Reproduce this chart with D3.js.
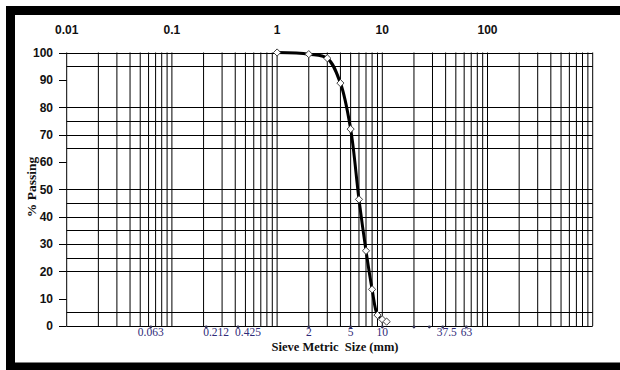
<!DOCTYPE html>
<html>
<head>
<meta charset="utf-8">
<script src="https://cdn.jsdelivr.net/npm/d3@7"></script>
<style>
  html, body { margin: 0; padding: 0; background: #fff; }
  svg { display: block; }
</style>
</head>
<body>
<svg id="chart" width="620" height="370"></svg>
<script>
// ---- data ----
const sieveSizes = [1, 2, 3, 4, 5, 6, 7, 8, 9, 10, 11];           // mm
const percentPassing = [100, 99.4, 97.9, 88.8, 72.0, 46.3, 27.5, 13.4, 4.0, 2.4, 1.6];
const topTickValues = [0.01, 0.1, 1, 10, 100];
const topTickLabels = ["0.01", "0.1", "1", "10", "100"];
const yTickValues = [0, 10, 20, 30, 40, 50, 60, 70, 80, 90, 100];
const hGridValues = [100, 95, 80, 75, 70, 65, 50, 45, 40, 35, 30, 25, 20, 5, 0];
const sieveMarks = [0.063, 0.212, 0.425, 2, 5, 10, 20, 28, 37.5, 63];
const sieveLabelText = ["0.063", "0.212", "0.425", "2", "5", "10", "", "", "37.5", "63"];

// ---- layout ----
const svg = d3.select("#chart");
const x = d3.scaleLog().domain([0.01, 1000]).range([66.7, 592.7]);
const y = d3.scaleLinear().domain([0, 100]).range([326, 52.5]);

// frame bars
svg.append("rect").attr("x", 6).attr("y", 6).attr("width", 614).attr("height", 9).attr("fill", "#000");
svg.append("rect").attr("x", 6).attr("y", 6).attr("width", 9).attr("height", 364).attr("fill", "#000");
svg.append("rect").attr("x", 6).attr("y", 362.5).attr("width", 614).attr("height", 8).attr("fill", "#000");

// vertical log gridlines
svg.append("g").selectAll("line").data(x.ticks()).join("line")
  .attr("x1", d => x(d)).attr("x2", d => x(d))
  .attr("y1", y(100)).attr("y2", y(0))
  .attr("stroke", "#000").attr("stroke-width", 1);

// horizontal gridlines
svg.append("g").selectAll("line").data(hGridValues).join("line")
  .attr("x1", x(0.01)).attr("x2", x(1000))
  .attr("y1", d => Math.round(y(d)) + 0.5).attr("y2", d => Math.round(y(d)) + 0.5)
  .attr("stroke", "#000").attr("stroke-width", 1);

// y ticks + labels
const yg = svg.append("g");
yg.selectAll("line").data(yTickValues).join("line")
  .attr("x1", 59).attr("x2", x(0.01))
  .attr("y1", d => Math.round(y(d)) + 0.5).attr("y2", d => Math.round(y(d)) + 0.5)
  .attr("stroke", "#000");
yg.selectAll("text").data(yTickValues).join("text")
  .attr("x", 53).attr("y", d => y(d)).attr("dy", "0.36em")
  .attr("text-anchor", "end")
  .attr("font-family", "Liberation Sans, Arial, sans-serif")
  .attr("font-weight", "bold").attr("font-size", 12)
  .attr("fill", "#111")
  .text(d => d);

// top labels
svg.append("g").selectAll("text").data(topTickValues).join("text")
  .attr("x", d => x(d)).attr("y", 30).attr("dy", "0.36em")
  .attr("text-anchor", "middle")
  .attr("font-family", "Liberation Sans, Arial, sans-serif")
  .attr("font-weight", "bold").attr("font-size", 12)
  .attr("fill", "#111")
  .text((d, i) => topTickLabels[i]);

// sieve marks along the bottom
svg.append("g").selectAll("circle").data(sieveMarks).join("circle")
  .attr("cx", d => x(d)).attr("cy", y(0) + 1)
  .attr("r", 1.4).attr("fill", "#333355");
svg.append("g").selectAll("text").data(sieveMarks).join("text")
  .attr("x", (d, i) => (sieveLabelText[i] === "0.212" || sieveLabelText[i] === "0.425") ? x(d) - 3 : x(d) + (sieveLabelText[i] === "37.5" ? 4 : 0))
  .attr("y", 332).attr("dy", "0.35em")
  .attr("text-anchor", (d, i) => (sieveLabelText[i] === "0.212" || sieveLabelText[i] === "0.425") ? "start" : "middle")
  .attr("font-family", "Liberation Serif, Times New Roman, serif")
  .attr("font-size", 11.5)
  .attr("fill", "#2e2a78")
  .text((d, i) => sieveLabelText[i]);

// curve
const pts = sieveSizes.map((s, i) => [s, percentPassing[i]]);
svg.append("path").datum(pts)
  .attr("fill", "none").attr("stroke", "#000").attr("stroke-width", 3)
  .attr("d", d3.line().x(d => x(d[0])).y(d => y(d[1])).curve(d3.curveCatmullRom.alpha(0.5)));

// markers (diamonds)
svg.append("g").selectAll("path").data(pts).join("path")
  .attr("transform", d => `translate(${x(d[0])},${y(d[1])})`)
  .attr("d", "M0,-3.6L3.6,0L0,3.6L-3.6,0Z")
  .attr("fill", "#fff").attr("stroke", "#444").attr("stroke-width", 1);

// axis titles
svg.append("text")
  .attr("x", 335).attr("y", 347).attr("dy", "0.35em")
  .attr("text-anchor", "middle")
  .attr("font-family", "Liberation Serif, Times New Roman, serif")
  .attr("font-weight", "bold").attr("font-size", 12.5)
  .attr("fill", "#111")
  .attr("xml:space", "preserve")
  .text("Sieve Metric  Size (mm)");
svg.append("text")
  .attr("transform", "translate(31,187) rotate(-90)")
  .attr("dy", "0.35em")
  .attr("text-anchor", "middle")
  .attr("font-family", "Liberation Serif, Times New Roman, serif")
  .attr("font-weight", "bold").attr("font-size", 13.5)
  .attr("fill", "#111")
  .text("% Passing");
</script>
</body>
</html>
